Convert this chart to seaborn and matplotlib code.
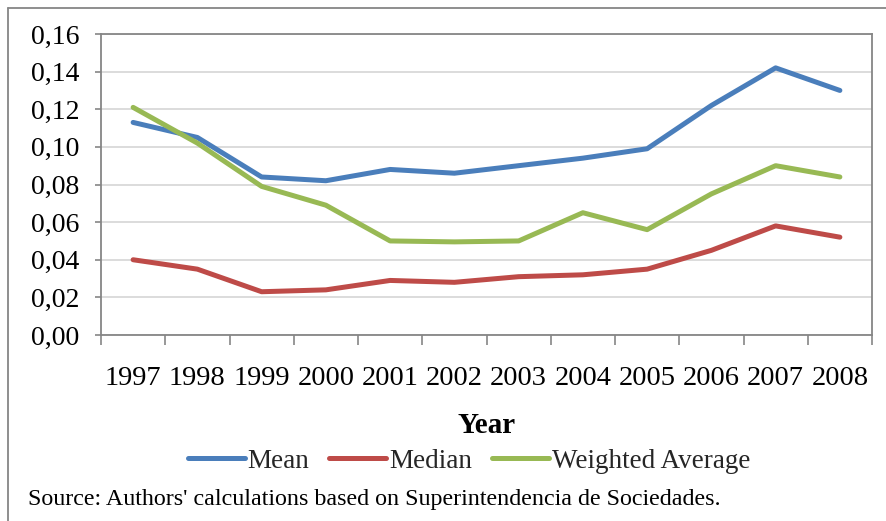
import matplotlib
matplotlib.use("Agg")
import matplotlib.pyplot as plt
from matplotlib.lines import Line2D
from matplotlib.ticker import FuncFormatter, FixedLocator
import seaborn as sns
import pandas as pd

years = [1997, 1998, 1999, 2000, 2001, 2002, 2003, 2004, 2005, 2006, 2007, 2008]
mean_vals = [0.113, 0.105, 0.084, 0.082, 0.088, 0.086, 0.090, 0.094, 0.099, 0.122, 0.142, 0.130]
median_vals = [0.040, 0.035, 0.023, 0.024, 0.029, 0.028, 0.031, 0.032, 0.035, 0.045, 0.058, 0.052]
weighted_vals = [0.121, 0.102, 0.079, 0.069, 0.050, 0.0495, 0.050, 0.065, 0.056, 0.075, 0.090, 0.084]
series_names = ["Mean", "Median", "Weighted Average"]
colors = ["#4A7EBB", "#BE4B48", "#98B954"]

df = pd.DataFrame({
    "Year": years * 3,
    "value": mean_vals + median_vals + weighted_vals,
    "series": [series_names[0]] * 12 + [series_names[1]] * 12 + [series_names[2]] * 12,
})

sns.set_theme(style="white")
plt.rcParams["font.family"] = ["Liberation Serif", "DejaVu Serif"]

fig = plt.figure(figsize=(8.86, 5.21), dpi=100)
ax = fig.add_axes([101 / 886, 1 - 335 / 521, (872 - 101) / 886, (335 - 34) / 521])

sns.lineplot(data=df, x="Year", y="value", hue="series", hue_order=series_names,
             palette=colors, linewidth=3.6, ax=ax, legend=False, sort=False,
             solid_capstyle="round")

ax.set_xlim(years[0] - 0.5, years[-1] + 0.5)
ax.set_ylim(0, 0.16)
ax.set_yticks([i * 0.02 for i in range(9)])
ax.yaxis.set_major_formatter(FuncFormatter(lambda v, p: f"{v:.2f}".replace(".", ",")))
ax.yaxis.grid(True, color="#D9D9D9", linewidth=1.3)
ax.set_axisbelow(True)

ax.set_xticks(years)
ax.set_xticklabels([str(y) for y in years])
ax.xaxis.set_minor_locator(FixedLocator([y - 0.5 for y in years] + [years[-1] + 0.5]))
ax.tick_params(axis="x", which="major", length=0, pad=22.5, labelsize=20.5, colors="black")
ax.tick_params(axis="x", which="minor", length=7, width=1.2, color="#868686", bottom=True)
ax.tick_params(axis="y", which="major", length=4.5, width=1.2, color="#868686",
               left=True, labelsize=20, pad=11, labelcolor="black")

for s in ax.spines.values():
    s.set_color("#868686")
    s.set_linewidth(1.3)
    s.set_visible(True)

ax.set_xlabel("Year", fontsize=21, fontweight="bold", labelpad=15, color="black")
ax.set_ylabel("")

handles = [Line2D([0], [0], color=c, linewidth=3.6, solid_capstyle="round") for c in colors]
fig.legend(handles, series_names, loc="center", bbox_to_anchor=(469 / 886, 1 - 461 / 521),
           ncol=3, frameon=False, fontsize=19.5, handlelength=2.1, handletextpad=0.1,
           columnspacing=0.75, borderpad=0, borderaxespad=0)

fig.text(28 / 886, 1 - 500 / 521, "Source: Authors' calculations based on Superintendencia de Sociedades.",
         fontsize=17.3, ha="left", va="center", color="black")

# outer frame: top and left edges
fig.add_artist(Line2D([8 / 886, 1.0], [1 - 8 / 521, 1 - 8 / 521], transform=fig.transFigure,
                      color="#868686", linewidth=1.3))
fig.add_artist(Line2D([8 / 886, 8 / 886], [0.0, 1 - 8 / 521], transform=fig.transFigure,
                      color="#868686", linewidth=1.3))

fig.savefig("out.png", dpi=100, facecolor="white")
